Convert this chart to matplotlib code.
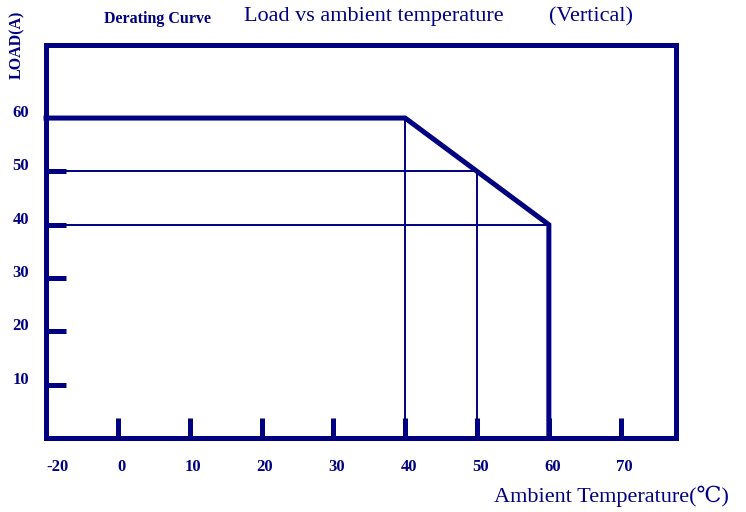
import matplotlib
matplotlib.use("Agg")
import matplotlib.pyplot as plt
import matplotlib.transforms as mtrans

navy = "#000080"
serif = ["Liberation Serif", "DejaVu Serif"]

# derating curve: load (A) vs ambient temperature (C)
curve_t = [-10, 40, 60, 60]
curve_load = [60, 60, 40, 0]

# thin guide lines
guide_t = [40, 50]
guide_t_top = [60, 50]
guide_load = [50, 40]
guide_load_end = [50, 60]

x_marks = [0, 10, 20, 30, 40, 50, 60, 70]
x_label_pos = [-10, 0, 10, 20, 30, 40, 50, 60, 70]
x_labels = ["-20", "0", "10", "20", "30", "40", "50", "60", "70"]
y_marks = [10, 20, 30, 40, 50]
y_label_pos = [10, 20, 30, 40, 50, 60]
y_labels = ["10", "20", "30", "40", "50", "60"]

fig = plt.figure(figsize=(7.46, 5.12), dpi=100)
ax = fig.add_axes([46 / 746, 1 - 438 / 512, 630 / 746, 393 / 512])
ax.set_xlim(-10, 77.7)
ax.set_ylim(0, 73.7)

ax.plot(curve_t, curve_load, color=navy, lw=3.6, solid_joinstyle="miter",
        clip_on=False, zorder=3)
ax.vlines(guide_t, 0, guide_t_top, color=navy, lw=1.4)
ax.hlines(guide_load, -10, guide_load_end, color=navy, lw=1.4)

for s in ax.spines.values():
    s.set_color(navy)
    s.set_linewidth(3.6)

# thick inward marks (major) and labels (minor)
ax.xaxis.remove_overlapping_locs = False
ax.yaxis.remove_overlapping_locs = False
ax.set_xticks(x_marks)
ax.set_xticklabels([])
ax.set_yticks(y_marks)
ax.set_yticklabels([])
ax.tick_params(which="major", direction="in", length=14.5, width=3.6,
               color=navy)
ax.set_xticks(x_label_pos, minor=True)
ax.set_xticklabels(x_labels, minor=True)
ax.set_yticks(y_label_pos, minor=True)
ax.set_yticklabels(y_labels, minor=True)
ax.tick_params(which="minor", length=0, labelcolor=navy, labelsize=12)
ax.tick_params(axis="x", which="minor", pad=15)
ax.tick_params(axis="y", which="minor", pad=12)

for i, lab in enumerate(ax.get_xticklabels(minor=True)):
    lab.set_fontfamily(serif)
    lab.set_fontweight("bold")
    dx = 8 if i == 0 else 2.5
    lab.set_transform(lab.get_transform() +
                      mtrans.ScaledTranslation(dx / 72, 0, fig.dpi_scale_trans))
for lab in ax.get_yticklabels(minor=True):
    lab.set_fontfamily(serif)
    lab.set_fontweight("bold")
    lab.set_transform(lab.get_transform() +
                      mtrans.ScaledTranslation(0, 5 / 72, fig.dpi_scale_trans))

fig.text(158 / 746, 1 - 19 / 512, "Derating Curve", family=serif,
         weight="bold", size=11.5, color=navy, ha="center", va="center")
fig.text(374 / 746, 1 - 17 / 512, "Load vs ambient temperature",
         family=serif, size=16, color=navy, ha="center", va="center")
fig.text(591 / 746, 1 - 17 / 512, "(Vertical)", family=serif, size=16,
         color=navy, ha="center", va="center")
fig.text(17 / 746, 1 - 45 / 512, "LOAD(A)", family=serif, weight="bold",
         size=11.5, color=navy, ha="center", va="center", rotation=90)
fig.text(611 / 746, 1 - 496 / 512, "Ambient Temperature(℃)",
         family=serif + ["Noto Sans CJK SC"], size=16, color=navy,
         ha="center", va="center")

fig.savefig("out.png", dpi=100)
